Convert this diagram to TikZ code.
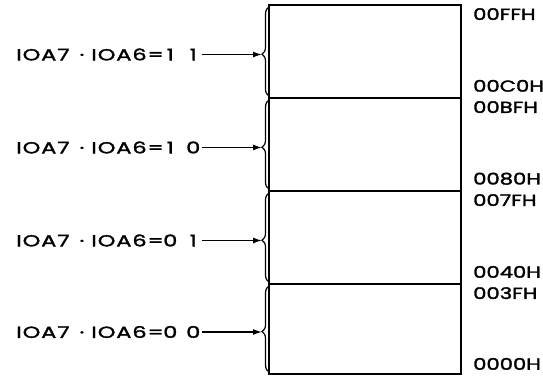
\documentclass[tikz,border=0pt]{standalone}
\usepackage{fontspec}
\setmainfont{Poppins}[FakeStretch=1.32, FakeBold=2]
\newfontfamily\selfont{Poppins}[FakeStretch=1.4, FakeBold=2, LetterSpace=6]
\usetikzlibrary{positioning,arrows.meta,decorations.pathreplacing}
\newcommand{\digitbox}[1]{\makebox[13pt]{#1}}

\begin{document}
\begin{tikzpicture}[
    x=1pt, y=-1pt,
    block/.style={rectangle, draw=black, line width=2pt, outer sep=0pt, inner sep=0pt, minimum width=192pt, minimum height=93pt},
    sel/.style={font=\fontsize{16}{19}\selfont, inner sep=2pt},
    addr/.style={font=\fontsize{16}{19}\selectfont, inner sep=0pt},
    bracket/.style={decorate, decoration={brace, amplitude=7pt, aspect=0.47}, line width=1.2pt},
    feed/.style={-{Latex[length=9pt,width=6pt]}, line width=1.4pt}
]
\useasboundingbox (0,0) rectangle (543,377);

\node[block] (blk3) at (365,51.5) {};
\node[block, below=0pt of blk3] (blk2) {};
\node[block, below=0pt of blk2] (blk1) {};
\node[block, below=0pt of blk1, minimum height=90pt] (blk0) {};

\draw[bracket] ([yshift=2pt]blk3.south west) -- ([yshift=-2pt]blk3.north west);
\draw[bracket] ([yshift=2pt]blk2.south west) -- ([yshift=-2pt]blk2.north west);
\draw[bracket] ([yshift=2pt]blk1.south west) -- ([yshift=-2pt]blk1.north west);
\draw[bracket] ([yshift=2pt]blk0.south west) -- ([yshift=-2pt]blk0.north west);

\coordinate (tip3) at ([xshift=-7pt, yshift=-3pt]blk3.west);
\coordinate (tip2) at ([xshift=-7pt, yshift=-3pt]blk2.west);
\coordinate (tip1) at ([xshift=-7pt, yshift=-3pt]blk1.west);
\coordinate (tip0) at ([xshift=-7pt, yshift=-3pt]blk0.west);

\node[sel, left=60pt of tip3] (sel3) {IOA7\hspace{10pt}·\hspace{7pt}IOA6=\digitbox{1}\hspace{10pt}\digitbox{1}};
\node[sel, left=60pt of tip2] (sel2) {IOA7\hspace{10pt}·\hspace{7pt}IOA6=\digitbox{1}\hspace{10pt}\digitbox{0}};
\node[sel, left=60pt of tip1] (sel1) {IOA7\hspace{10pt}·\hspace{7pt}IOA6=\digitbox{0}\hspace{10pt}\digitbox{1}};
\node[sel, left=60pt of tip0] (sel0) {IOA7\hspace{10pt}·\hspace{7pt}IOA6=\digitbox{0}\hspace{10pt}\digitbox{0}};

\draw[feed] (sel3) -- (tip3);
\draw[feed] (sel2) -- (tip2);
\draw[feed] (sel1) -- (tip1);
\draw[feed] (sel0) -- (tip0);

\node[addr, anchor=north west] (hi3) at ([xshift=12pt, yshift=-3pt]blk3.north east) {00FFH};
\node[addr, anchor=south west] (lo3) at ([xshift=12pt, yshift=6pt]blk3.south east) {00C0H};
\node[addr, anchor=north west] (hi2) at ([xshift=12pt, yshift=-3pt]blk2.north east) {00BFH};
\node[addr, anchor=south west] (lo2) at ([xshift=12pt, yshift=6pt]blk2.south east) {0080H};
\node[addr, anchor=north west] (hi1) at ([xshift=12pt, yshift=-3pt]blk1.north east) {007FH};
\node[addr, anchor=south west] (lo1) at ([xshift=12pt, yshift=6pt]blk1.south east) {0040H};
\node[addr, anchor=north west] (hi0) at ([xshift=12pt, yshift=-3pt]blk0.north east) {003FH};
\node[addr, anchor=south west] (lo0) at ([xshift=12pt, yshift=4pt]blk0.south east) {0000H};

\end{tikzpicture}
\end{document}
